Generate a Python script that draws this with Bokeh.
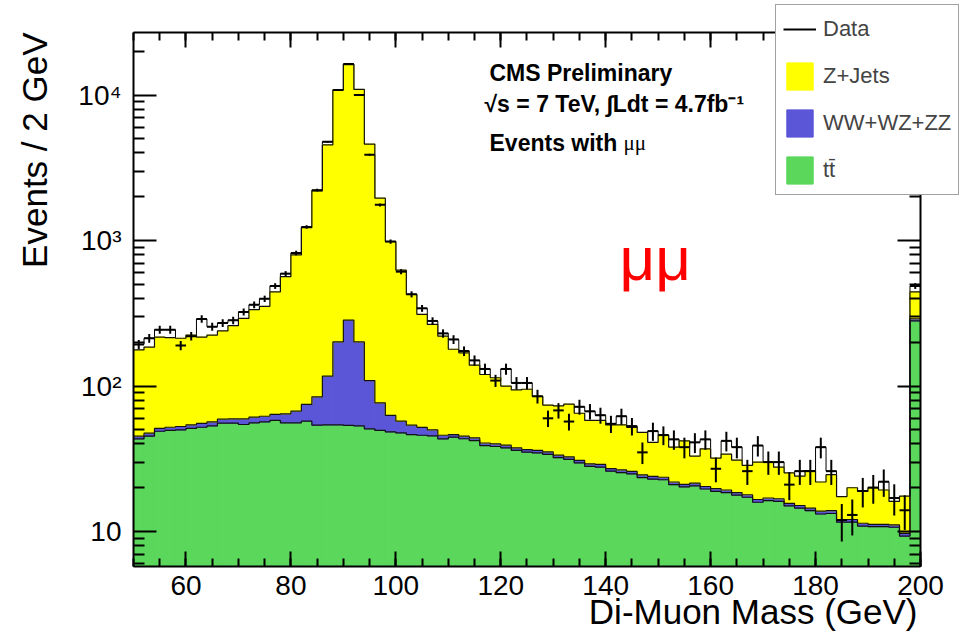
import numpy as np
from bokeh.plotting import figure
from bokeh.models import (Range1d, LinearAxis, LogAxis, FixedTicker, Label,
                          Legend, LegendItem)
from bokeh.embed import file_html
from bokeh.resources import INLINE

# ---------------- data ----------------
bin_edges = list(range(50, 202, 2))  # 2 GeV bins, 50..200

data_counts = [193, 213, 244, 244, 190, 220, 289, 256, 271, 283, 323, 362, 398, 487, 592,
               821, 1240, 2219, 4771, 10825, 16350, 10000, 3882, 1758, 983, 611, 427, 342, 280, 230,
               209, 174, 150, 131, 109, 131, 105, 105, 85, 60, 68, 57, 72, 67, 63,
               55, 62, 53, 35, 49, 46, 43, 38, 41, 43, 27, 42, 38, 26, 39,
               30, 30, 21, 26, 26, 38, 26, 12, 13, 19, 20, 22, 17, 14, 487]

ttbar = [43.3, 45.2, 48.9, 49.5, 49.9, 51.1, 52.1, 53.2, 55.6, 55.6, 54.4, 55.9, 56.7, 58.0, 55.9,
         55.9, 57.3, 53.8, 54.1, 54.1, 53.7, 53.2, 50.8, 49.5, 48.4, 47.6, 46.4, 45.9, 45.4, 43.3,
         44.5, 43.4, 42.2, 39.0, 38.4, 37.6, 36.1, 35.1, 34.7, 33.9, 32.2, 31.3, 29.6, 28.0, 27.7,
         26.0, 25.4, 24.9, 23.5, 22.9, 22.7, 21.0, 20.3, 20.6, 19.6, 18.9, 18.5, 17.8, 17.2, 15.9,
         16.3, 16.1, 15.0, 14.5, 13.9, 13.2, 13.3, 11.6, 11.6, 10.9, 10.8, 10.8, 10.7, 9.3, 280.0]

diboson = [1.9, 2.2, 2.2, 2.6, 2.8, 3.0, 3.2, 3.5, 3.6, 3.9, 5.1, 5.2, 5.3, 5.8, 8.5,
           11.3, 17.4, 30.5, 62.9, 146.9, 230.3, 147.8, 58.2, 27.1, 14.4, 9.7, 7.4, 6.0, 4.5, 2.6,
           1.9, 1.8, 1.8, 1.6, 1.6, 1.6, 1.5, 1.5, 1.4, 1.4, 1.3, 1.3, 1.2, 1.2, 1.2,
           1.1, 1.1, 1.0, 1.0, 1.0, 0.9, 0.9, 0.8, 0.9, 0.8, 0.8, 0.8, 0.7, 0.7, 0.7,
           0.7, 0.7, 0.6, 0.6, 0.6, 0.6, 0.6, 0.5, 0.5, 0.5, 0.4, 0.4, 0.4, 0.4, 10.0]

zjets = [131.8, 137.6, 165.9, 162.9, 160.3, 169.9, 161.7, 167.3, 179.8, 200.5, 232.5, 273.9, 291.0, 379.2, 499.6,
         728.8, 1152.3, 2110.7, 4433.0, 10624.0, 15876.0, 10729.0, 4491.0, 1878.4, 920.2, 567.7, 373.2, 259.1, 215.1, 174.1,
         132.6, 123.8, 95.0, 79.4, 74.0, 60.8, 56.4, 58.4, 48.9, 38.7, 39.5, 42.4, 34.2, 28.8, 29.1,
         26.9, 27.5, 26.1, 23.5, 17.1, 22.4, 16.1, 20.9, 11.5, 16.6, 12.3, 14.7, 12.5, 10.6, 13.4,
         13.0, 10.9, 9.7, 8.9, 11.7, 8.1, 10.7, 5.3, 7.9, 7.5, 8.9, 8.1, 5.0, 7.8, 153.0]

x_ticks = [60, 80, 100, 120, 140, 160, 180, 200]
y_ticks = [10, 100, 1000, 10000]
y_tick_labels = {10: "10", 100: "10\u00b2", 1000: "10\u00b3", 10000: "10\u2074"}

series_names = ["Z+Jets", "WW+WZ+ZZ", "t\u0074\u0304"]
series_colors = ["#ffff00", "#5b56d8", "#5bd75b"]

# axis extents (the drawn box) and the full view (whole canvas)
x_axis_span = (50, 200)
y_axis_span = (5.75, 26900)
x_view = (24.65, 208.58)
y_view = (1.84, 44630)

# ---------------- derived ----------------
edges = np.array(bin_edges, dtype=float)
lo, hi = edges[:-1], edges[1:]
centers = 0.5 * (lo + hi)
dat = np.array(data_counts, dtype=float)
err = np.sqrt(dat)
tt = np.array(ttbar)
vv = tt + np.array(diboson)
tot = vv + np.array(zjets)
base = y_axis_span[0]

FONT = "Liberation Sans"
W, H = 965, 638

p = figure(width=W, height=H,
           x_range=Range1d(*x_view), y_range=Range1d(*y_view),
           y_axis_type="log", x_axis_location=None, y_axis_location=None,
           output_backend="svg", toolbar_location=None,
           min_border_left=0, min_border_right=0, min_border_top=0, min_border_bottom=0,
           background_fill_color="white", border_fill_color="white",
           outline_line_color=None)
p.grid.visible = False

# data outline step (visible only above the stack)
p.step(x=edges, y=np.append(dat, dat[-1]), mode="after", line_color="black", line_width=1)

# stacked fills
r_tt = p.quad(left=lo, right=hi, bottom=base, top=tt, fill_color=series_colors[2], line_color=series_colors[2])
r_vv = p.quad(left=lo, right=hi, bottom=tt, top=vv, fill_color=series_colors[1], line_color=series_colors[1])
r_zj = p.quad(left=lo, right=hi, bottom=vv, top=tot, fill_color=series_colors[0], line_color=series_colors[0])

# stack outlines
for lvl in (tt, vv, tot):
    p.step(x=edges, y=np.append(lvl, lvl[-1]), mode="after", line_color="#111111", line_width=1.2)

# data points
r_dh = p.segment(x0=lo, x1=hi, y0=dat, y1=dat, line_color="black", line_width=2)
p.segment(x0=centers, x1=centers, y0=dat - err, y1=dat + err, line_color="black", line_width=2)

# ---------------- axes (box drawn by four axes) ----------------
x_minor = [v for v in range(50, 201, 5) if x_axis_span[0] <= v <= x_axis_span[1]]
y_minor = [m * 10 ** k for k in range(0, 5) for m in range(2, 10)
           if y_axis_span[0] <= m * 10 ** k <= y_axis_span[1]]
x_ticker = FixedTicker(ticks=x_ticks, minor_ticks=x_minor)
y_ticker = FixedTicker(ticks=y_ticks, minor_ticks=y_minor)


def style(ax, major_len, minor_len):
    ax.major_tick_in = major_len
    ax.major_tick_out = 0
    ax.minor_tick_in = minor_len
    ax.minor_tick_out = 0
    ax.major_tick_line_width = 2
    ax.minor_tick_line_width = 2
    ax.axis_line_width = 2
    ax.major_label_text_font = FONT
    ax.major_label_text_font_size = "28px"
    ax.major_label_text_color = "black"


bottom_ax = LinearAxis(ticker=x_ticker, fixed_location=y_axis_span[0], bounds=x_axis_span)
style(bottom_ax, 15, 8)
bottom_ax.major_label_standoff = 10
p.add_layout(bottom_ax, "below")

left_ax = LogAxis(ticker=y_ticker, fixed_location=x_axis_span[0], bounds=y_axis_span)
style(left_ax, 23, 11)
left_ax.major_label_standoff = 12
left_ax.major_label_overrides = y_tick_labels
p.add_layout(left_ax, "left")

top_ax = LinearAxis(ticker=x_ticker, fixed_location=y_axis_span[1], bounds=x_axis_span)
style(top_ax, 15, 8)
top_ax.major_label_overrides = {t: "" for t in x_ticks}
p.add_layout(top_ax, "above")

right_ax = LogAxis(ticker=y_ticker, fixed_location=x_axis_span[1], bounds=y_axis_span)
style(right_ax, 23, 11)
right_ax.major_label_overrides = {t: "" for t in y_ticks}
p.add_layout(right_ax, "right")


# ---------------- texts ----------------
def lab(txt, x, y_top, size, **kw):
    opts = dict(x=x, y=H - y_top, x_units="screen", y_units="screen", text=txt,
                text_font=FONT, text_font_size=size, text_color="black",
                text_baseline="alphabetic")
    opts.update(kw)
    p.add_layout(Label(**opts))


lab("Events / 2 GeV", 34, 32, "35px", angle=1.5707963, text_align="right")
lab("Di-Muon Mass (GeV)", 917, 611, "35px", text_align="right")
lab("CMS Preliminary", 489, 72, "23px", text_font_style="bold")
lab("\u221as = 7 TeV, \u222bLdt = 4.7fb\u207b\u00b9", 484, 103, "23px", text_font_style="bold")
lab("Events with", 489, 142, "23px", text_font_style="bold")
lab("\u03bc\u03bc", 623, 142, "21px", text_font="Liberation Serif")
lab("\u03bc\u03bc", 619, 258, "62px", text_color="#ff0000")

# ---------------- legend ----------------
legend = Legend(items=[LegendItem(label="Data", renderers=[r_dh]),
                       LegendItem(label=series_names[0], renderers=[r_zj]),
                       LegendItem(label=series_names[1], renderers=[r_vv]),
                       LegendItem(label=series_names[2], renderers=[r_tt])],
                location=(775, H - 195), orientation="vertical",
                label_text_font=FONT, label_text_font_size="22px",
                glyph_width=33, glyph_height=34, spacing=13, padding=7, margin=0,
                label_standoff=7,
                border_line_color="#444444", border_line_width=1,
                background_fill_color="white", background_fill_alpha=1.0)
p.add_layout(legend, "center")

open("out.html", "w").write(file_html(p, INLINE))
